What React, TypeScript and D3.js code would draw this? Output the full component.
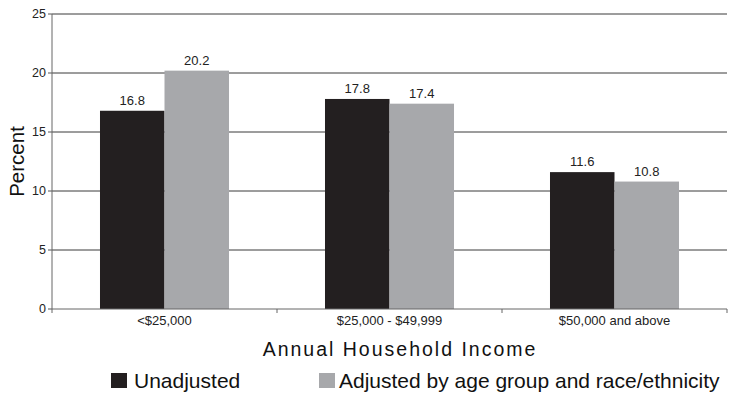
import React from "react";
import * as d3 from "d3";

const categories = ["<$25,000", "$25,000 - $49,999", "$50,000 and above"];
const unadjusted = [16.8, 17.8, 11.6];
const adjusted = [20.2, 17.4, 10.8];
const seriesNames = ["Unadjusted", "Adjusted by age group and race/ethnicity"];
const yTicks = [0, 5, 10, 15, 20, 25];

const W = 729;
const H = 393;
const colors = ["#231f20", "#a7a8ab"];

export default function App() {
  const left = 52;
  const right = 727;
  const top = 14;
  const bottom = 309;
  const x = d3.scaleBand<string>().domain(categories).range([left, right]).paddingInner(0).paddingOuter(0);
  const bw = x.bandwidth();
  const inner = d3.scaleBand<string>().domain(["u", "a"]).range([0, bw]).paddingOuter(0.744).paddingInner(0);
  const y = d3.scaleLinear().domain([0, 25]).range([bottom, top]);
  const font = "'Liberation Sans', Arial, Helvetica, sans-serif";
  const series = [unadjusted, adjusted];
  const keys = ["u", "a"];
  return (
    <svg width={W} height={H} style={{ position: "absolute", left: 0, top: 0 }} fontFamily={font}>
      <rect width={W} height={H} fill="#fff" />
      {yTicks.map((t) => (
        <g key={t}>
          {t > 0 && <line x1={left} x2={right} y1={y(t)} y2={y(t)} stroke="#3a3a3a" strokeWidth={1} />}
          <line x1={left - 4} x2={left} y1={y(t)} y2={y(t)} stroke="#555" strokeWidth={1} />
          <text x={left - 6} y={y(t)} dy="0.35em" textAnchor="end" fontSize={12.5} fill="#222">
            {t}
          </text>
        </g>
      ))}
      {categories.map((c, i) =>
        series.map((s, j) => {
          const bx = (x(c) as number) + (inner(keys[j]) as number);
          const w = inner.bandwidth();
          return (
            <g key={c + j}>
              <rect x={bx} y={y(s[i])} width={w} height={bottom - y(s[i])} fill={colors[j]} />
              <text x={bx + w / 2} y={y(s[i]) - 6} textAnchor="middle" fontSize={13} fill="#222">
                {s[i].toFixed(1)}
              </text>
            </g>
          );
        })
      )}
      <line x1={left} x2={left} y1={top} y2={bottom} stroke="#666" strokeWidth={1} />
      <line x1={left} x2={right} y1={bottom} y2={bottom} stroke="#666" strokeWidth={1} />
      {[...categories.map((c) => x(c) as number), right].map((v, i) => (
        <line key={i} x1={v} x2={v} y1={bottom} y2={bottom + 4} stroke="#666" strokeWidth={1} />
      ))}
      {categories.map((c) => (
        <text key={c} x={(x(c) as number) + bw / 2} y={325} textAnchor="middle" fontSize={13} fill="#222">
          {c}
        </text>
      ))}
      <text
        transform={`translate(24,${(top + bottom) / 2}) rotate(-90)`}
        textAnchor="middle"
        fontSize={20.5}
        fill="#111"
      >
        Percent
      </text>
      <text x={400} y={356} textAnchor="middle" fontSize={19.5} letterSpacing={2} fill="#111">
        Annual Household Income
      </text>
      <rect x={111} y={373} width={16} height={15} fill={colors[0]} />
      <text x={134} y={388} fontSize={21} fill="#111">
        {seriesNames[0]}
      </text>
      <rect x={319} y={373} width={16} height={15} fill={colors[1]} />
      <text x={339} y={388} fontSize={21} fill="#111">
        {seriesNames[1]}
      </text>
    </svg>
  );
}
